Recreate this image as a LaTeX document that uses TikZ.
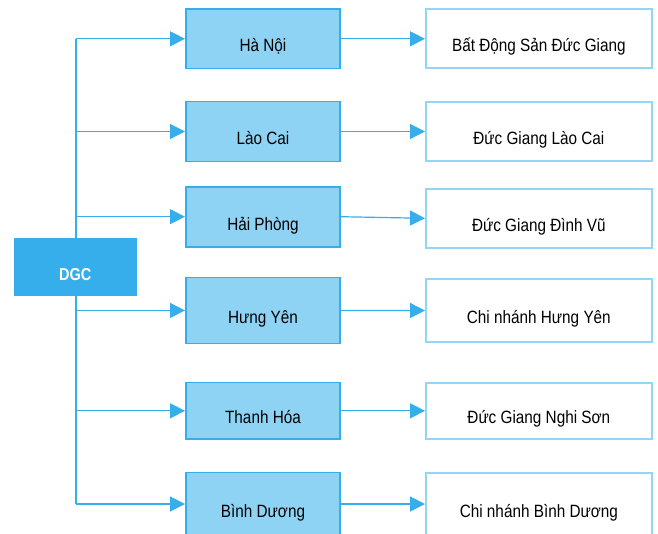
\documentclass[tikz,border=0pt]{standalone}
\usepackage{fontspec}
\setmainfont{Liberation Sans}[FakeStretch=0.86]
\newfontfamily\rootfont{Liberation Sans}[FakeStretch=0.84]
\usetikzlibrary{arrows.meta}
\definecolor{dblue}{HTML}{35AEEB}
\definecolor{lblue}{HTML}{8ED3F4}
\definecolor{rblue}{HTML}{92D5F5}
\tikzset{
  midbox/.style={draw=dblue, fill=lblue, line width=1.6pt, minimum width=154.4pt,
    text height=26pt, text depth=0pt, inner sep=0pt,
    font=\fontsize{17.8}{20}\selectfont, text=black},
  rightbox/.style={draw=rblue, fill=white, line width=2pt, minimum width=225.7pt,
    text height=26pt, text depth=0pt, inner sep=0pt,
    font=\fontsize{17.8}{20}\selectfont, text=black},
  rootbox/.style={fill=dblue, minimum width=122.7pt, minimum height=58pt,
    text height=26.6pt, text depth=0pt, inner sep=0pt,
    font=\rootfont\bfseries\fontsize{17.3}{19}\selectfont, text=white},
  conn/.style={draw=dblue, line width=1.2pt},
  arr/.style={conn, -{Triangle[length=15pt,width=15pt]}}
}
\begin{document}
\begin{tikzpicture}[x=1pt,y=-1pt]
\useasboundingbox (0,0) rectangle (658,533);
% trunk
\coordinate (top) at (76,38.8);
\coordinate (bot) at (76,504);
\draw[conn] (top) -- (bot);
% root
\node[rootbox] (dgc) at (75.3,266.7) {DGC};
% middle boxes
\node[midbox, minimum height=59.5pt] (hn) at (263,38.8) {Hà Nội};
\node[midbox, minimum height=60pt] (lc) at (263,131.5) {Lào Cai};
\node[midbox, minimum height=60pt] (hp) at (263,217) {Hải Phòng};
\node[midbox, minimum height=65.8pt] (hy) at (263,310.4) {Hưng Yên};
\node[midbox, minimum height=56.8pt] (th) at (263,410.8) {Thanh Hóa};
\node[midbox, minimum height=63pt] (bd) at (263,504) {Bình Dương};
% right boxes
\node[rightbox, minimum height=59pt] (bds) at (538.85,38.8) {Bất Động Sản Đức Giang};
\node[rightbox, minimum height=59.6pt] (dglc) at (538.85,131.5) {Đức Giang Lào Cai};
\node[rightbox, minimum height=59.6pt] (dgdv) at (538.85,218.3) {Đức Giang Đình Vũ};
\node[rightbox, minimum height=62.4pt] (cnhy) at (538.85,310.5) {Chi nhánh Hưng Yên};
\node[rightbox, minimum height=56.3pt] (dgns) at (538.85,410.8) {Đức Giang Nghi Sơn};
\node[rightbox, minimum height=62pt] (cnbd) at (538.85,504) {Chi nhánh Bình Dương};
% branches
\foreach \m in {hn,lc,hy,th,bd}{
  \draw[arr] (\m.west -| top) -- (\m.west);
}
\draw[arr] (top |- 0,216.7) -- (hp.west |- 0,216.7);
% to right
\draw[arr] (hn.east) -- (bds.west);
\draw[arr] (lc.east) -- (dglc.west);
\draw[arr] (hp.east |- 0,216.7) -- (dgdv.west);
\draw[arr] (hy.east) -- (cnhy.west);
\draw[arr] (th.east) -- (dgns.west);
\draw[arr] (bd.east) -- (cnbd.west);
\end{tikzpicture}
\end{document}
